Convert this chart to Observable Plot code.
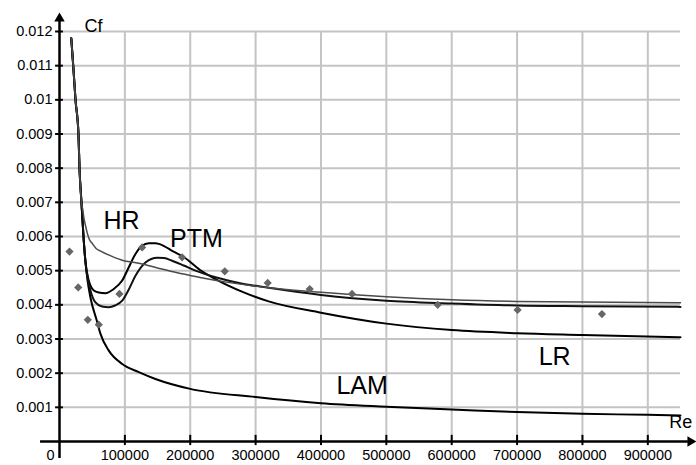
<!DOCTYPE html>
<html>
<head>
<meta charset="utf-8">
<script src="https://cdn.jsdelivr.net/npm/d3@7"></script>
<script src="https://cdn.jsdelivr.net/npm/@observablehq/plot@0.6"></script>
<style>
  html, body { margin: 0; padding: 0; background: #fff; }
  #chart svg { display: block; }
</style>
</head>
<body>
<div id="chart"></div>
<script>
// ---- data ----
const xTicks = [100000, 200000, 300000, 400000, 500000, 600000, 700000, 800000, 900000];
const xTickLabels = ["100000", "200000", "300000", "400000", "500000", "600000", "700000", "800000", "900000"];
const yTicks = [0.001, 0.002, 0.003, 0.004, 0.005, 0.006, 0.007, 0.008, 0.009, 0.01, 0.011, 0.012];
const yTickLabels = ["0.001", "0.002", "0.003", "0.004", "0.005", "0.006", "0.007", "0.008", "0.009", "0.01", "0.011", "0.012"];

// LAM curve
const lamRe = [18000, 21000, 24500, 29000, 30600, 33600, 36700, 39500, 43000, 47500, 57000, 62700, 75400, 95900, 121300, 146800, 200000, 300000, 400000, 500000, 600000, 700000, 800000, 900000, 950000];
const lamCf = [0.0118, 0.011, 0.010, 0.009, 0.008, 0.007, 0.006, 0.0053, 0.0047, 0.0042, 0.00354, 0.00315, 0.00266, 0.00227, 0.00203, 0.00183, 0.00154, 0.0013, 0.00112, 0.00102, 0.00094, 0.00086, 0.00081, 0.00078, 0.00076];

// HR curve
const hrRe = [18000, 21000, 24500, 29000, 30600, 33600, 35500, 37200, 40000, 42500, 46000, 50000, 56000, 63000, 80000, 97000, 115000, 130000, 150000, 170000, 190000, 215000, 260000, 320000, 400000, 500000, 600000, 700000, 800000, 950000];
const hrCf = [0.0118, 0.011, 0.010, 0.009, 0.008, 0.007, 0.0068, 0.00656, 0.0063, 0.0061, 0.0059, 0.0058, 0.00565, 0.00557, 0.00542, 0.0053, 0.00524, 0.00518, 0.00508, 0.00498, 0.0049, 0.0048, 0.00465, 0.0045, 0.00437, 0.00424, 0.00415, 0.0041, 0.00408, 0.00406];

// LR curve (high peak, falls to 0.003)
const lrRe = [18000, 21000, 24500, 29000, 30600, 33600, 36700, 39500, 44800, 52400, 60000, 70300, 82000, 95900, 106000, 116200, 126000, 136500, 146800, 160000, 172300, 190000, 215000, 240000, 280000, 320000, 400000, 500000, 600000, 700000, 800000, 950000];
const lrCf = [0.0118, 0.011, 0.010, 0.009, 0.008, 0.007, 0.006, 0.0053, 0.00471, 0.00442, 0.00436, 0.00434, 0.00445, 0.00471, 0.0051, 0.00549, 0.00572, 0.0058, 0.0058, 0.00572, 0.00558, 0.0054, 0.00502, 0.00474, 0.00438, 0.0041, 0.00377, 0.00345, 0.00326, 0.00317, 0.00312, 0.00305];

// PTM curve (deep dip, lower peak)
const ptmRe = [18000, 21000, 24500, 29000, 30600, 33600, 36700, 39500, 47400, 55000, 65000, 75400, 85000, 95900, 106000, 116200, 131500, 149400, 160000, 172300, 190000, 208000, 240000, 280000, 320000, 400000, 500000, 600000, 700000, 800000, 950000];
const ptmCf = [0.0118, 0.011, 0.010, 0.009, 0.008, 0.007, 0.006, 0.0053, 0.00442, 0.00407, 0.00395, 0.00393, 0.00398, 0.00412, 0.00445, 0.00485, 0.00524, 0.00538, 0.00537, 0.00529, 0.00515, 0.005, 0.0048, 0.00462, 0.0045, 0.00429, 0.00412, 0.00404, 0.00398, 0.00396, 0.00394];

// measured points (diamonds)
const expRe = [15300, 28600, 43300, 60100, 91700, 126400, 187600, 252800, 318500, 382800, 447500, 578500, 700800, 829800];
const expCf = [0.00556, 0.00451, 0.00356, 0.00342, 0.00432, 0.00568, 0.00539, 0.00498, 0.00464, 0.00446, 0.00432, 0.00400, 0.00385, 0.00373];

// curve labels (name, anchor Re, anchor Cf)
const labelNames = ["HR", "PTM", "LAM", "LR"];
const labelRe = [94900, 209600, 462900, 757500];
const labelCf = [0.00644, 0.00594, 0.00161, 0.00246];

// ---- build tables ----
const zip = (re, cf) => re.map((r, i) => ({re: r, cf: cf[i]}));
const lam = zip(lamRe, lamCf);
const hr = zip(hrRe, hrCf);
const lr = zip(lrRe, lrCf);
const ptm = zip(ptmRe, ptmCf);
const exp = zip(expRe, expCf);
const labels = labelNames.map((n, i) => ({name: n, re: labelRe[i], cf: labelCf[i]}));
const xt = xTicks.map((v, i) => ({v, t: xTickLabels[i]}));
const yt = yTicks.map((v, i) => ({v, t: yTickLabels[i]}));

const font = "'Liberation Sans', Arial, sans-serif";

const chart = Plot.plot({
  width: 696,
  height: 465,
  marginLeft: 59,
  marginRight: 16,
  marginTop: 31,
  marginBottom: 24,
  style: {fontFamily: font, background: "#fff", color: "#000", overflow: "visible"},
  x: {domain: [0, 950000], axis: null},
  y: {domain: [0, 0.012], axis: null},
  marks: [
    // grid
    Plot.ruleX(xTicks, {x: d => d, y1: 0, y2: 0.012, stroke: "#c4c4c4", strokeWidth: 2}),
    Plot.ruleY(yTicks, {y: d => d, x1: 0, x2: 950000, stroke: "#c4c4c4", strokeWidth: 2}),
    // curves
    Plot.line(lam, {x: "re", y: "cf", curve: "monotone-x", stroke: "#000", strokeWidth: 2}),
    Plot.line(lr, {x: "re", y: "cf", curve: "monotone-x", stroke: "#000", strokeWidth: 2}),
    Plot.line(ptm, {x: "re", y: "cf", curve: "monotone-x", stroke: "#111", strokeWidth: 2}),
    Plot.line(hr, {x: "re", y: "cf", curve: "monotone-x", stroke: "#4a4a4a", strokeWidth: 1.5}),
    // points
    Plot.dot(exp, {x: "re", y: "cf", symbol: "diamond2", r: 3.7, fill: "#666", stroke: "none"}),
    // axes lines
    Plot.ruleX([0], {x: d => d, y1: -0.0005, y2: 0.0124, stroke: "#000", strokeWidth: 2.5}),
    Plot.ruleY([0], {y: d => d, x1: -29000, x2: 962000, stroke: "#000", strokeWidth: 2.5}),
    // arrows
    Plot.dot([0], {x: 0, y: 0.012, dy: -13, symbol: "triangle", r: 3.9, fill: "#000", stroke: "none"}),
    Plot.dot([0], {x: 950000, y: 0, dx: 10, symbol: "triangle", r: 3.9, rotate: 90, fill: "#000", stroke: "none"}),
    // tick marks
    Plot.ruleX(xTicks, {x: d => d, y1: -0.00012, y2: 0.00018, stroke: "#000", strokeWidth: 2}),
    Plot.ruleY(yTicks, {y: d => d, x1: -6000, x2: 6000, stroke: "#000", strokeWidth: 2}),
    // tick labels
    Plot.text(xt, {x: "v", y: 0, text: "t", dy: 14, fontSize: 14.5, fill: "#000"}),
    Plot.text(yt, {x: 0, y: "v", text: "t", dx: -7, textAnchor: "end", fontSize: 14.5, fill: "#000"}),
    Plot.text(["0"], {x: 0, y: 0, text: d => d, dx: -5, dy: 14, textAnchor: "end", fontSize: 14.5, fill: "#000"}),
    // axis titles
    Plot.text(["Cf"], {x: 52000, y: 0.01215, text: d => d, fontSize: 18, fill: "#000"}),
    Plot.text(["Re"], {x: 950300, y: 0.00057, text: d => d, fontSize: 18, fill: "#000"}),
    // curve labels
    Plot.text(labels, {x: "re", y: "cf", text: "name", fontSize: 25, fill: "#000"})
  ]
});

document.getElementById("chart").appendChild(chart);
</script>
</body>
</html>
